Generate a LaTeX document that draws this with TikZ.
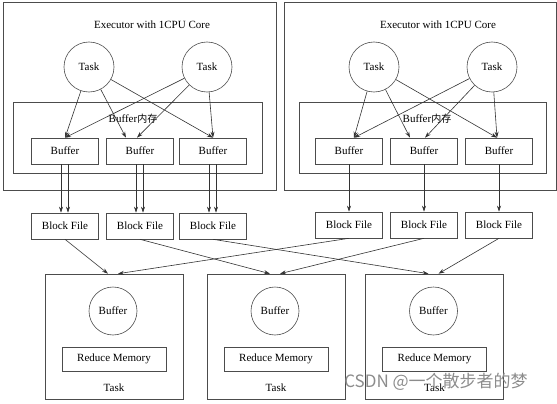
\documentclass[tikz,border=0pt]{standalone}
\usepackage{fontspec}
\setmainfont{Liberation Serif}
\newfontfamily\cjk{Noto Sans CJK SC}
\usetikzlibrary{arrows.meta,calc}

\tikzset{
  frame/.style={draw=black!70, rectangle, inner sep=0pt},
  smallbox/.style={frame, minimum width=67pt, minimum height=26pt},
  taskcirc/.style={draw=black!70, circle, inner sep=0pt, minimum size=50pt},
  link/.style={->, draw=black!80},
}

\begin{document}
\begin{tikzpicture}[>={Stealth[length=6pt,width=4pt]}, x=1pt, y=-1pt, line width=0.6pt,
    font=\fontsize{11}{13}\selectfont]
  \useasboundingbox (0,0) rectangle (557,404);
  % executors
  \node[frame, minimum width=273pt, minimum height=188pt] (exl) at (139.5,96) {};
  \node[frame, minimum width=272pt, minimum height=188pt] (exr) at (420,96) {};
  \node (titl) at (152,25) {Executor with 1CPU Core};
  \node (titr) at (438,25) {Executor with 1CPU Core};
  \node[taskcirc] (t1) at (89,67) {Task};
  \node[taskcirc] (t2) at (207,67) {Task};
  \node[taskcirc] (t3) at (374,67) {Task};
  \node[taskcirc] (t4) at (492,67) {Task};
  \node[frame, minimum width=249pt, minimum height=71pt] (meml) at (137.5,137.5) {};
  \node[frame, minimum width=247pt, minimum height=71pt] (memr) at (422.5,137.5) {};
  \node (meml label) at (133,119) {Buffer{\cjk\fontsize{10}{12}\selectfont 内存}};
  \node (memr label) at (427,119) {Buffer{\cjk\fontsize{10}{12}\selectfont 内存}};
  % buffers and block files
  \foreach \i/\x in {1/65,2/140,3/213} {
    \node[smallbox] (lb\i) at (\x,151) {Buffer};
    \node[smallbox] (lf\i) at (\x,226) {Block File};
    \draw[link] ($(lb\i.south)+(-4,0)$) -- ($(lf\i.north)+(-4,0)$);
    \draw[link] ($(lb\i.south)+(3,0)$) -- ($(lf\i.north)+(3,0)$);
  }
  \foreach \i/\x in {1/349,2/424,3/499} {
    \node[smallbox] (rb\i) at (\x,151) {Buffer};
    \node[smallbox] (rf\i) at (\x,225) {Block File};
    \draw[link] (rb\i) -- (rf\i);
  }
  % tasks write into every buffer
  \draw[link] (t1) -- (lb1.north);
  \draw[link] (t2) -- (lb1.north);
  \draw[link] (t1) -- ($(lb2.north)+(-14,0)$);
  \draw[link] (t2) -- ($(lb2.north)+(-3,0)$);
  \draw[link] (t1) -- (lb3.north);
  \draw[link] (t2) -- (lb3.north);
  \draw[link] (t3) -- ($(rb1.north)+(5,0)$);
  \draw[link] (t4) -- ($(rb1.north)+(5,0)$);
  \draw[link] (t3) -- ($(rb2.north)+(-14,0)$);
  \draw[link] (t4) -- ($(rb2.north)+(1,0)$);
  \draw[link] (t3) -- ($(rb3.north)+(-2,0)$);
  \draw[link] (t4) -- ($(rb3.north)+(-2,0)$);
  % reduce side
  \foreach \i/\x in {1/114,2/276,3/434.5} {
    \node[frame, minimum width=138pt, minimum height=125pt] (rt\i) at (\x,336.5) {};
    \node[taskcirc, minimum size=48pt] (rc\i) at (\x-1,311) {Buffer};
    \node[frame, minimum width=104pt, minimum height=24pt] (rm\i) at (\x,359) {Reduce Memory};
    \node (rl\i) at (\x,388) {Task};
    \draw[link] (lf\i.south) -- ($(rt\i.north)+(-6,0)$);
    \draw[link] (rf\i.south) -- ($(rt\i.north)+(4,0)$);
  }
  \node[text=black!45, font=\cjk\fontsize{17}{17}\selectfont] (mark) at (436,382) {CSDN @一个散步者的梦};
\end{tikzpicture}
\end{document}
